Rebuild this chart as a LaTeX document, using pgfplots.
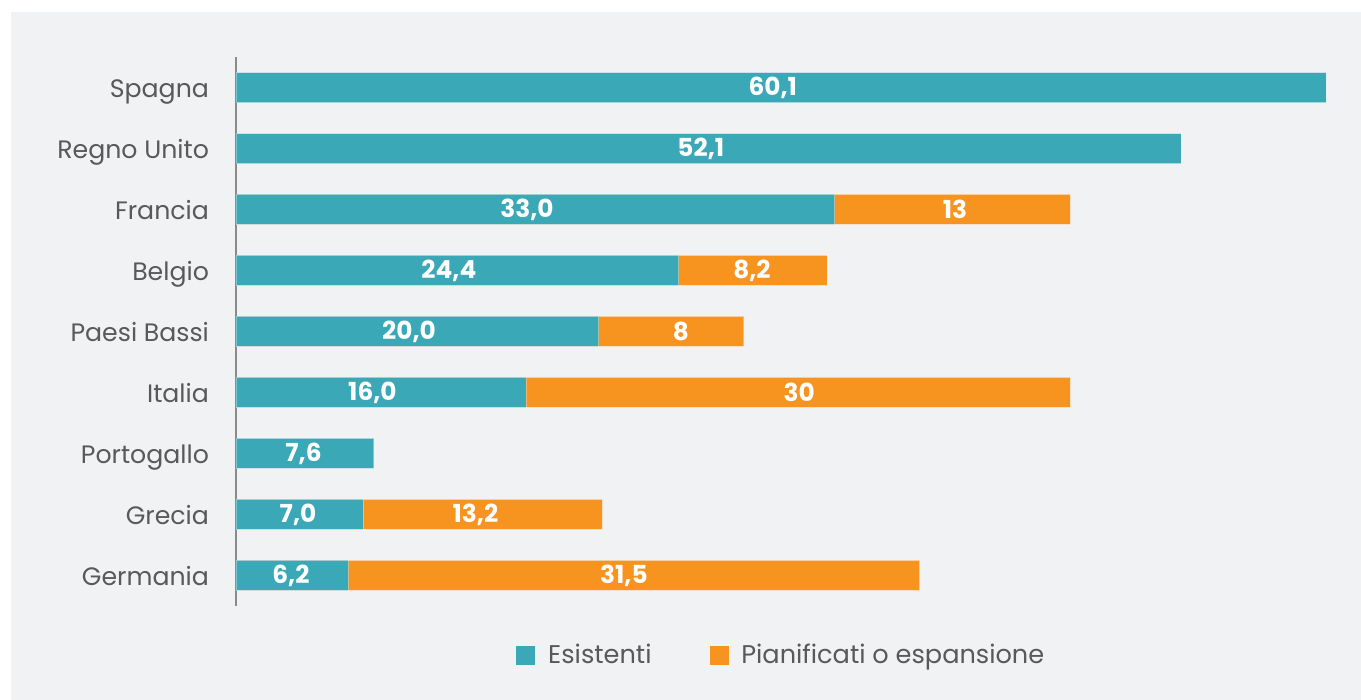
\documentclass[border=0pt]{standalone}
\usepackage{pgfplots}
\pgfplotsset{compat=1.18}
\usepackage{fontspec}
\setmainfont{Poppins}
\definecolor{teal1}{HTML}{3BA8B8}
\definecolor{orange1}{HTML}{F7931F}
\definecolor{bggray}{HTML}{F1F2F4}
\definecolor{txtgray}{HTML}{58595B}
\definecolor{axgray}{HTML}{8A8A8A}
\begin{document}
\begin{tikzpicture}
\fill[white] (0pt,0pt) rectangle (680.5pt,350pt);
\fill[bggray] (5.5pt,0pt) rectangle (680.5pt,344pt);
\begin{axis}[
  at={(118pt,47pt)}, anchor=south west,
  scale only axis, width=545pt, height=274.5pt,
  xmin=0, xmax=60.1, ymin=-0.5, ymax=8.5,
  axis x line=none,
  axis y line*=left,
  axis line style={axgray, line width=0.6pt, -},
  ytick={0,1,2,3,4,5,6,7,8},
  yticklabels={Germania,Grecia,Portogallo,Italia,Paesi Bassi,Belgio,Francia,Regno Unito,Spagna},
  major tick length=0pt,
  yticklabel style={font=\fontsize{12.6}{15}\selectfont, text=txtgray, anchor=base east, xshift=-10pt, yshift=-4.8pt},
  legend style={at={(rel axis cs:0.2514,-0.0893)}, anchor=west, draw=none, fill=none,
    legend columns=2, font=\fontsize{12.8}{15}\selectfont, text=txtgray,
    /tikz/every odd column/.append style={column sep=4.5pt},
    /tikz/every even column/.append style={column sep=27pt}},
  legend image code/.code={\fill[#1] (0pt,-4.5pt) rectangle (9pt,4.5pt);},
  clip=false,
]
\addlegendimage{teal1}
\addlegendentry{Esistenti}
\addlegendimage{orange1}
\addlegendentry{Pianificati o espansione}
% totals (orange) drawn first
\addplot[xbar, bar width=15pt, fill=orange1, draw=white, draw opacity=0.35, line width=0.4pt, forget plot] coordinates {
(37.7,0) (20.2,1) (46.0,3) (28.0,4) (32.6,5) (46.0,6)};
% existing (teal)
\addplot[xbar, bar width=15pt, fill=teal1, draw=white, draw opacity=0.35, line width=0.4pt, forget plot] coordinates {
(6.2,0) (7.0,1) (7.6,2) (16.0,3) (20.0,4) (24.4,5) (33.0,6) (52.1,7) (60.1,8)};
% labels
\addplot[draw=none, mark=none, forget plot, nodes near coords, point meta=explicit symbolic,
  nodes near coords style={anchor=center, text=white, font=\fontsize{12.4}{15}\selectfont\bfseries}]
  table[x=x, y=y, meta=label] {
x y label
3.03 0 6,2
3.42 1 7,0
3.72 2 7,6
7.52 3 16,0
9.54 4 20,0
11.74 5 24,4
16.04 6 33,0
25.63 7 52,1
29.6 8 60,1
21.39 0 31,5
13.2 1 13,2
31.06 3 30
24.53 4 8
28.45 5 8,2
39.64 6 13
};
\end{axis}
\end{tikzpicture}
\end{document}
